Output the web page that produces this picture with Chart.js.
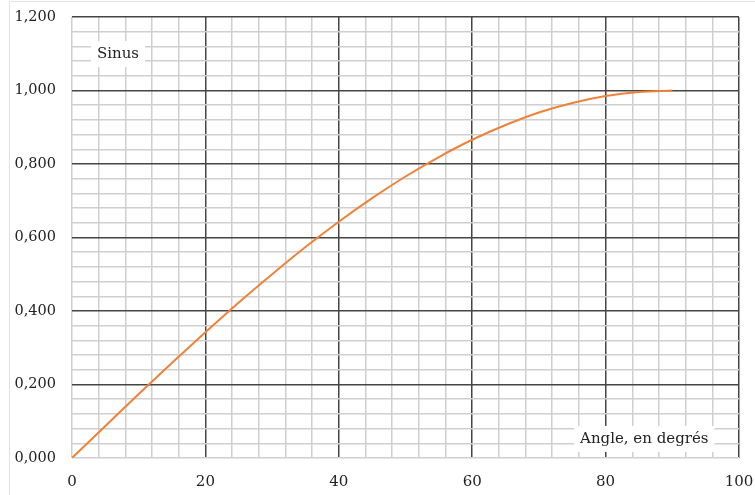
<!DOCTYPE html>
<html>
<head>
<meta charset="utf-8">
<script src="https://cdn.jsdelivr.net/npm/chart.js@4/dist/chart.umd.min.js"></script>
<style>
  html, body { margin: 0; padding: 0; background: #fff; }
  #wrap { position: relative; width: 755px; height: 495px; }
</style>
</head>
<body>
<div id="wrap"><canvas id="chart" width="755" height="495"></canvas></div>
<script>
// angle (degrees) and sine values
const angles = [0, 5, 10, 15, 20, 25, 30, 35, 40, 45, 50, 55, 60, 65, 70, 75, 80, 85, 90];
const sinus = [0, 0.087, 0.174, 0.259, 0.342, 0.423, 0.5, 0.574, 0.643, 0.707, 0.766, 0.819, 0.866, 0.906, 0.94, 0.966, 0.985, 0.996, 1.0];

const xMajor = [0, 20, 40, 60, 80, 100];
const yMajor = ['0,000', '0,200', '0,400', '0,600', '0,800', '1,000', '1,200'];

const labels = [
    { text: 'Sinus', x: 6.9, y: 1.099 },
    { text: 'Angle, en degrés', x: 85.8, y: 0.052 },
];

const FONT = 'DejaVu Serif';
const DARK = '#454545';
const LIGHT = '#cfcfcf';

const isMajor = (v, step) => Math.round(v * 1000) % Math.round(step * 1000) === 0;

// white boxed text labels inside the plot
const boxLabels = {
    id: 'boxLabels',
    beforeDraw(chart) {
        const c = chart.ctx;
        c.save();
        c.strokeStyle = '#e2e2e2';
        c.lineWidth = 1;
        c.beginPath();
        c.moveTo(9.5, 495);
        c.lineTo(9.5, 1.5);
        c.lineTo(755, 1.5);
        c.stroke();
        c.restore();
    },
    afterDatasetsDraw(chart) {
        const c = chart.ctx;
        const xs = chart.scales.x, ys = chart.scales.y;
        c.save();
        c.font = '15px "' + FONT + '"';
        c.textAlign = 'center';
        c.textBaseline = 'middle';
        labels.forEach(l => {
            const px = xs.getPixelForValue(l.x);
            const py = ys.getPixelForValue(l.y);
            const w = c.measureText(l.text).width + 12;
            c.fillStyle = '#fff';
            c.fillRect(px - w / 2, py - 13, w, 26);
            c.fillStyle = '#222';
            c.fillText(l.text, px, py);
        });
        c.restore();
    }
};

new Chart(document.getElementById('chart'), {
    type: 'line',
    data: {
        datasets: [{
            data: angles.map((a, i) => ({ x: a, y: sinus[i] })),
            borderColor: '#ef8238',
            borderWidth: 2,
            pointRadius: 0,
            tension: 0.4,
            cubicInterpolationMode: 'monotone',
            fill: false,
        }]
    },
    options: {
        responsive: false,
        animation: false,
        layout: { padding: { top: 17, right: 16, bottom: 0, left: 0 } },
        plugins: { legend: { display: false }, tooltip: { enabled: false } },
        scales: {
            x: {
                type: 'linear',
                min: 0,
                max: 100,
                afterFit: s => { s.height = 37; s.paddingLeft = 0; s.paddingRight = 0; },
                border: { display: false },
                grid: {
                    drawTicks: false,
                    lineWidth: 1.5,
                    color: ctx => (ctx.tick.value > 0 && isMajor(ctx.tick.value, 20)) ? DARK : LIGHT,
                },
                ticks: {
                    stepSize: 4,
                    autoSkip: false,
                    maxRotation: 0,
                    padding: 15,
                    color: '#222',
                    font: { family: FONT, size: 15 },
                    callback: v => xMajor.includes(v) ? String(v) : '',
                },
            },
            y: {
                min: 0,
                max: 1.2,
                afterFit: s => { s.width = 72; s.paddingTop = 0; s.paddingBottom = 0; },
                border: { display: false },
                grid: {
                    drawTicks: false,
                    lineWidth: 1.5,
                    color: ctx => (ctx.tick.value > 0.001 && isMajor(ctx.tick.value, 0.2)) ? DARK : LIGHT,
                },
                ticks: {
                    stepSize: 0.04,
                    autoSkip: false,
                    padding: 16,
                    color: '#222',
                    font: { family: FONT, size: 14.5 },
                    callback: v => isMajor(v, 0.2) ? yMajor[Math.round(v / 0.2)] : '',
                },
            },
        },
    },
    plugins: [boxLabels],
});
</script>
</body>
</html>
